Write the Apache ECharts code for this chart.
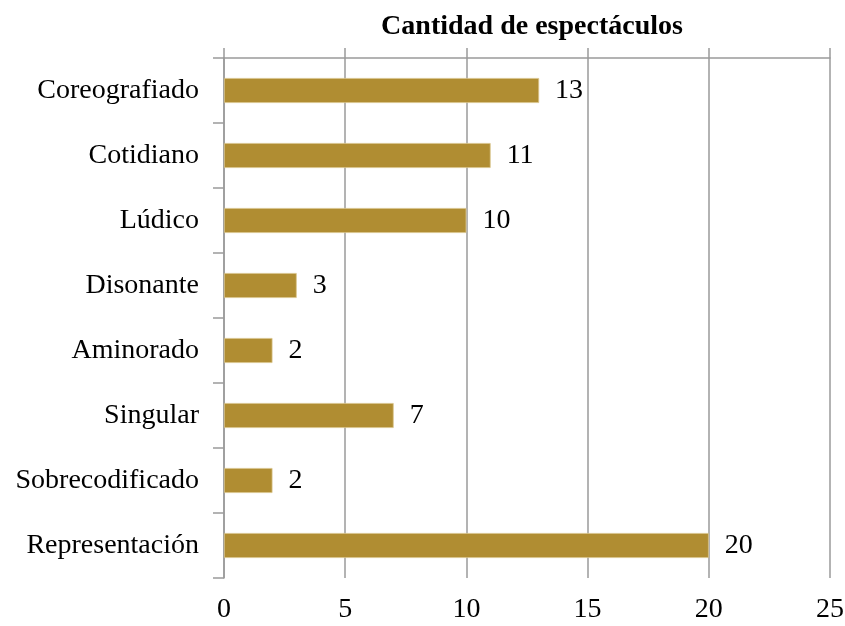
<!DOCTYPE html>
<html>
<head>
<meta charset="utf-8">
<script src="https://cdn.jsdelivr.net/npm/echarts@6/dist/echarts.min.js"></script>
<style>
  html, body { margin: 0; padding: 0; background: #fff; }
  #chart { width: 845px; height: 626px; }
</style>
</head>
<body>
<div id="chart"></div>
<script>
// datos del gráfico
const categories = [
  "Coreografiado", "Cotidiano", "Lúdico", "Disonante",
  "Aminorado", "Singular", "Sobrecodificado", "Representación"
];
const values = [13, 11, 10, 3, 2, 7, 2, 20];
const xTicks = [0, 5, 10, 15, 20, 25];
const chartTitle = "Cantidad de espectáculos";

const serif = "Liberation Serif";
const gray = "#9a9a9a";

const chart = echarts.init(document.getElementById("chart"));

chart.setOption({
  animation: false,
  title: {
    text: chartTitle,
    left: 527,
    top: 8,
    textAlign: "center",
    textStyle: { fontFamily: serif, fontSize: 28, fontWeight: "bold", color: "#000" }
  },
  grid: { left: 224, right: 15, top: 58, bottom: 48, containLabel: false, outerBoundsMode: "none" },
  xAxis: [
    {
      type: "value",
      position: "top",
      min: xTicks[0],
      max: xTicks[xTicks.length - 1],
      interval: 5,
      axisLine: { show: true, lineStyle: { color: gray, width: 1.5 } },
      axisTick: { show: true, length: 10, lineStyle: { color: gray, width: 1.5 } },
      axisLabel: { show: false },
      splitLine: { show: true, lineStyle: { color: gray, width: 1.5 } }
    },
    {
      type: "value",
      position: "bottom",
      min: xTicks[0],
      max: xTicks[xTicks.length - 1],
      interval: 5,
      axisLine: { show: false },
      axisTick: { show: false },
      splitLine: { show: false },
      axisLabel: {
        margin: 18,
        fontFamily: serif,
        fontSize: 28,
        color: "#000"
      }
    }
  ],
  yAxis: {
    type: "category",
    inverse: true,
    data: categories,
    axisLine: { show: true, lineStyle: { color: gray, width: 1.5 } },
    axisTick: { show: true, length: 11, lineStyle: { color: gray, width: 1.5 } },
    axisLabel: {
      margin: 25,
      fontFamily: serif,
      fontSize: 28,
      color: "#000"
    }
  },
  series: [
    {
      type: "bar",
      xAxisIndex: 0,
      data: values,
      barWidth: 25,
      itemStyle: { color: "#b08d32", borderColor: "#d9c48c", borderWidth: 0.8 },
      label: {
        show: true,
        position: "right",
        distance: 16,
        fontFamily: serif,
        fontSize: 28,
        color: "#000"
      }
    }
  ]
});
</script>
</body>
</html>
